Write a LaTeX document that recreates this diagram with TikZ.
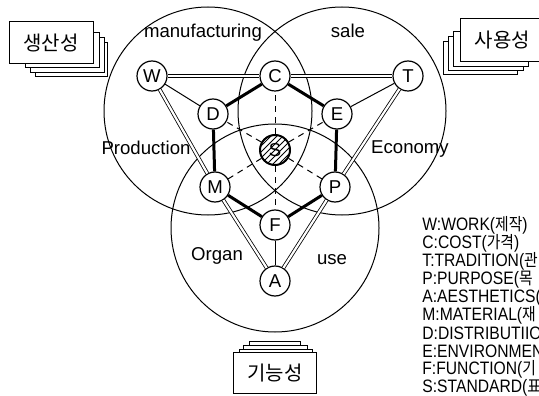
\documentclass[tikz,border=0pt]{standalone}
\usepackage{fontspec}
\usepackage{graphicx}
\setmainfont{Liberation Sans}
\newfontfamily\kofont{Noto Sans CJK KR}
\newcommand\kor[1]{{\kofont\fontsize{8.5}{10}\selectfont #1}}
\usetikzlibrary{patterns}

\begin{document}
\begin{tikzpicture}[x=0.5pt,y=-0.5pt,font=\fontsize{9.3}{11}\selectfont,
  letter/.style={circle,draw,line width=0.6pt,fill=white,minimum size=15pt,inner sep=0pt},
  hub/.style={letter,line width=1pt,preaction={fill=white},pattern=north east lines},
  ring/.style={line width=0.5pt},
  rail/.style={double,line width=0.4pt,double distance=1.1pt},
  bold/.style={line width=1.5pt},
  thin/.style={line width=0.5pt},
  spoke/.style={line width=0.5pt,dash pattern=on 3pt off 2.5pt},
  field/.style={anchor=base,inner sep=0pt},
  sheet/.style={draw,fill=white,line width=0.5pt},
  card/.style={sheet,inner sep=0pt,font=\kofont\fontsize{10}{12}\selectfont},
  keyline/.style={anchor=west,inner sep=0pt,font=\fontsize{9}{10}\selectfont}]
\useasboundingbox (0,0) rectangle (539,395);
\clip (0,0) rectangle (539,395);
% the three fields
\draw[ring] (208,111) circle (104);
\draw[ring] (342,111) circle (104);
\draw[ring] (275,228) circle (104);
\node[field] (mfg) at (203,38) {manufacturing};
\node[field] (sale) at (348,38) {sale};
\node[field] (prod) at (146,155) {Production};
\node[field] (econ) at (410,154) {Economy};
\node[field] (organ) at (217,260) {Organ};
\node[field] (use) at (332,264) {use};
% factor nodes
\node[letter] (W) at (152,76) {W};
\node[letter] (C) at (275,76) {C};
\node[letter] (T) at (408,76) {T};
\node[letter] (D) at (213,114) {D};
\node[letter] (E) at (337,114) {E};
\node[hub] (S) at (275,150) {S};
\node[letter] (M) at (215,187) {M};
\node[letter] (P) at (335,187) {P};
\node[letter] (F) at (275,225) {F};
\node[letter] (A) at (275,281) {A};
% outer triangle
\draw[rail] (W) -- (C);
\draw[rail] (C) -- (T);
\draw[rail] (W) -- (M);
\draw[rail] (M) -- (A);
\draw[rail] (T) -- (P);
\draw[rail] (P) -- (A);
\draw[thin] (W) -- (D);
\draw[thin] (T) -- (E);
\draw[thin] (F) -- (A);
% hexagon
\draw[bold] (C) -- (D);
\draw[bold] (D) -- (M);
\draw[bold] (M) -- (F);
\draw[bold] (F) -- (P);
\draw[bold] (P) -- (E);
\draw[bold] (E) -- (C);
\draw[spoke] (S) -- (C);
\draw[spoke] (S) -- (D);
\draw[spoke] (S) -- (E);
\draw[spoke] (S) -- (M);
\draw[spoke] (S) -- (P);
\draw[spoke] (S) -- (F);
% stacked cards
\draw[sheet] (35,43) rectangle (107,77);
\draw[sheet] (30,38) rectangle (104,73);
\draw[sheet] (25,33) rectangle (99,68);
\node[card,minimum width=42pt,minimum height=21pt] (prodcard) at (51,42.5) {생산성};
\draw[sheet] (443,42) rectangle (517,75);
\draw[sheet] (448,37) rectangle (523,71);
\draw[sheet] (453,32) rectangle (528,67);
\node[card,minimum width=42.5pt,minimum height=21.7pt] (usecard) at (502.5,40) {사용성};
\draw[sheet] (249,341) rectangle (300,360);
\draw[sheet] (243,345) rectangle (307,360);
\draw[sheet] (239,349) rectangle (312,360);
\node[card,minimum width=41.7pt,minimum height=20.4pt] (funccard) at (275,373) {기능성};
% key
\node[keyline] (kW) at (422,225) {\scalebox{0.87}[1]{W:WORK(\kor{제작})}};
\node[keyline] (kC) at (422,243.1) {\scalebox{0.87}[1]{C:COST(\kor{가격})}};
\node[keyline] (kT) at (422,261.2) {\scalebox{0.87}[1]{T:TRADITION(\kor{관}}};
\node[keyline] (kP) at (422,279.3) {\scalebox{0.87}[1]{P:PURPOSE(\kor{목}}};
\node[keyline] (kA) at (422,297.4) {\scalebox{0.87}[1]{A:AESTHETICS(}};
\node[keyline] (kM) at (422,315.5) {\scalebox{0.87}[1]{M:MATERIAL(\kor{재}}};
\node[keyline] (kD) at (422,333.6) {\scalebox{0.87}[1]{D:DISTRIBUTIIO}};
\node[keyline] (kE) at (422,351.7) {\scalebox{0.87}[1]{E:ENVIRONMEN}};
\node[keyline] (kF) at (422,369.8) {\scalebox{0.87}[1]{F:FUNCTION(\kor{기}}};
\node[keyline] (kS) at (422,387.9) {\scalebox{0.87}[1]{S:STANDARD(\kor{표}}};
\end{tikzpicture}
\end{document}
